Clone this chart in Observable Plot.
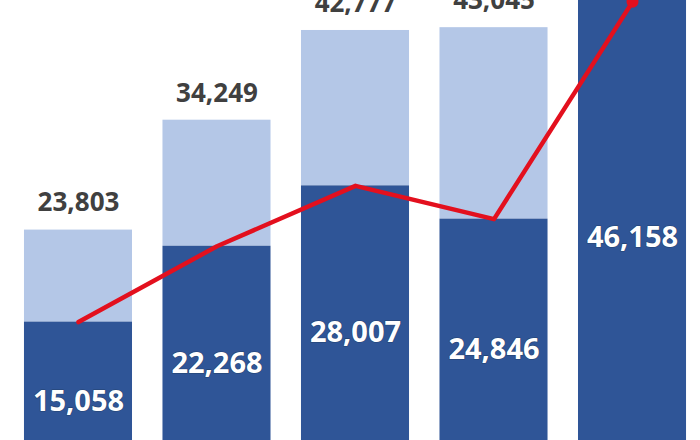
<!DOCTYPE html>
<html>
<head>
<meta charset="utf-8">
<script src="https://cdn.jsdelivr.net/npm/d3@7"></script>
<script src="https://cdn.jsdelivr.net/npm/@observablehq/plot@0.6"></script>
<style>
  html, body { margin: 0; padding: 0; background: #fff; }
  #chart { width: 700px; height: 440px; overflow: hidden; }
</style>
</head>
<body>
<div id="chart"></div>
<script>
const categories = ["1", "2", "3", "4", "5"];
const darkValues = [15058, 22268, 28007, 24846, 46158];
const totalValues = [23803, 34249, 42777, 43045, null];
const lineValues = [15058, 22268, 28007, 24846, 45500];

const rows = categories.map((c, i) => ({
  cat: c, dark: darkValues[i], total: totalValues[i], line: lineValues[i]
}));
const withTotal = rows.filter(d => d.total != null);
const fmt = d3.format(",");

const DARK = "#2F5597";
const LIGHT = "#B4C7E7";
const RED = "#E3101E";

const chart = Plot.plot({
  width: 700,
  height: 440,
  marginTop: 0, marginBottom: 0, marginLeft: 0, marginRight: 0,
  style: { background: "#fff", fontFamily: "'Open Sans', sans-serif" },
  x: { type: "band", domain: categories, range: [-6.5, 716.5], padding: 0.22, round: false, axis: null },
  y: { domain: [3802, 45627], axis: null },
  marks: [
    Plot.barY(withTotal, { x: "cat", y1: "dark", y2: "total", fill: LIGHT, clip: true }),
    Plot.barY(rows, { x: "cat", y1: 0, y2: "dark", fill: DARK, clip: true }),
    Plot.line(rows, { x: "cat", y: "line", stroke: RED, strokeWidth: 4.5, strokeLinejoin: "round", clip: true }),
    Plot.dot(rows.slice(-1), { x: "cat", y: "line", r: 6, fill: RED, clip: true }),
    Plot.text(withTotal, {
      x: "cat", y: "total", text: d => fmt(d.total), dy: -27,
      fill: "#404040", fontSize: 26, fontWeight: "bold", lineAnchor: "middle", clip: true
    }),
    Plot.text(rows, {
      x: "cat", y: d => d.dark / 2, text: d => fmt(d.dark),
      fill: "#fff", stroke: "#23426f", strokeWidth: 1.2, paintOrder: "stroke",
      fontSize: 29, fontWeight: "bold", lineAnchor: "middle", clip: true
    })
  ]
});
document.getElementById("chart").appendChild(chart);
</script>
</body>
</html>
